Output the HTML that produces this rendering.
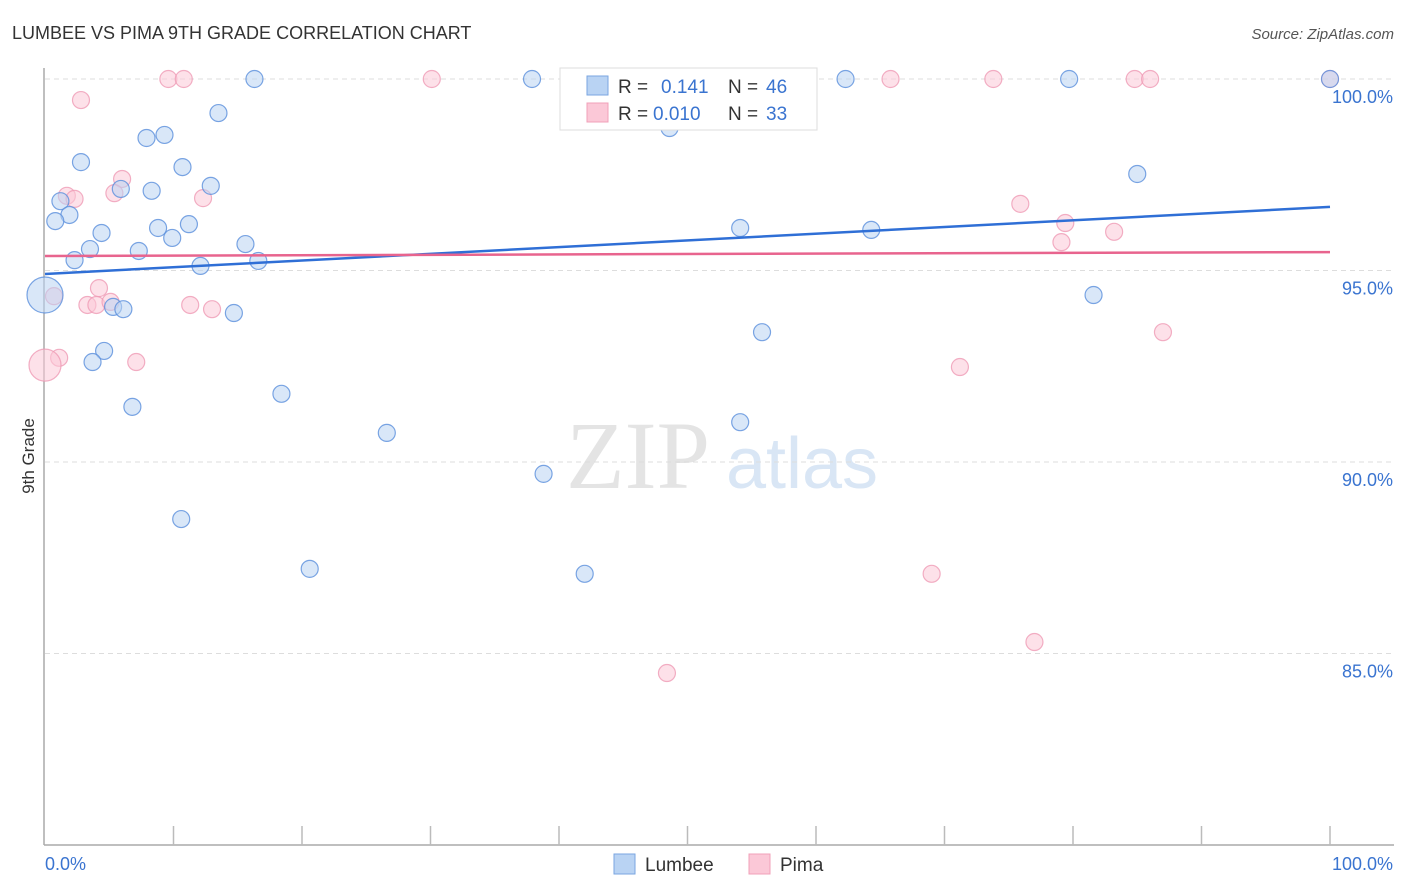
<!DOCTYPE html>
<html><head><meta charset="utf-8"><style>
body{margin:0;background:#fff;font-family:"Liberation Sans",sans-serif;}
svg{display:block}
</style></head><body>
<svg id="c" width="1406" height="892" xmlns="http://www.w3.org/2000/svg">
<text x="12" y="39" font-size="18" fill="#333">LUMBEE VS PIMA 9TH GRADE CORRELATION CHART</text>
<text x="1394" y="39" font-size="15" fill="#555" font-style="italic" text-anchor="end">Source: ZipAtlas.com</text>
<text x="638" y="488" font-size="96" fill="#e4e4e4" font-family="Liberation Serif" text-anchor="middle">ZIP</text>
<text x="802" y="488" font-size="72" fill="#d9e6f5" text-anchor="middle">atlas</text>
<g id="grid"></g><g id="axes"></g><g id="pts"></g><g id="trend"></g>
<text x="34" y="456" font-size="17" fill="#333" text-anchor="middle" transform="rotate(-90 34 456)">9th Grade</text>
<g>
<rect x="560" y="68" width="257" height="62" fill="#fff" stroke="#ddd"/>
<rect x="587" y="76" width="21" height="19" fill="#b9d3f3" stroke="#7aa6e0"/>
<rect x="587" y="103" width="21" height="19" fill="#fbc8d7" stroke="#f0a0b8"/>
<text x="618" y="93" font-size="19" fill="#333">R = </text><text x="661" y="93" font-size="19" fill="#3a74d0">0.141</text>
<text x="728" y="93" font-size="19" fill="#333">N = </text><text x="766" y="93" font-size="19" fill="#3a74d0">46</text>
<text x="618" y="120" font-size="19" fill="#333">R = </text><text x="653" y="120" font-size="19" fill="#3a74d0">0.010</text>
<text x="728" y="120" font-size="19" fill="#333">N = </text><text x="766" y="120" font-size="19" fill="#3a74d0">33</text>
</g>
<g>
<rect x="614" y="854" width="21" height="20" fill="#b9d3f3" stroke="#7aa6e0"/>
<text x="645" y="871" font-size="19" fill="#333">Lumbee</text>
<rect x="749" y="854" width="21" height="20" fill="#fbc8d7" stroke="#f0a0b8"/>
<text x="780" y="871" font-size="19" fill="#333">Pima</text>
</g>
</svg>
<script>
const lumbeeX=[16.3,37.9,62.3,79.7,100,13.5,7.9,9.3,2.8,10.7,48.6,12.9,5.9,8.3,1.2,1.9,0.8,11.2,8.8,4.4,9.9,54.1,64.3,85.0,15.6,3.5,7.3,2.3,16.6,12.1,0,5.3,6.1,14.7,81.6,55.8,4.6,3.7,6.8,18.4,26.6,54.1,38.8,10.6,20.6,42.0];
const lumbeeY=[100,100,100,100,100,99.11,98.46,98.54,97.83,97.70,98.72,97.21,97.13,97.08,96.81,96.45,96.29,96.21,96.11,95.98,95.85,96.11,96.06,97.52,95.69,95.56,95.51,95.27,95.25,95.12,94.36,94.05,93.99,93.89,94.36,93.39,92.90,92.61,91.44,91.78,90.76,91.04,89.69,88.51,87.21,87.08];
const pimaX=[9.6,10.8,30.1,65.8,73.8,84.8,86.0,100,2.8,6.0,1.7,2.3,5.4,12.3,75.9,79.4,79.1,83.2,4.2,0.7,3.3,4.0,5.1,11.3,13.0,1.1,0,7.1,71.2,87.0,69.0,77.0,48.4];
const pimaY=[100,100,100,100,100,100,100,100,99.45,97.39,96.95,96.87,97.02,96.89,96.74,96.24,95.74,96.01,94.54,94.33,94.10,94.10,94.18,94.10,93.99,92.72,92.53,92.61,92.48,93.39,87.08,85.30,84.49];
const lumbeeTrend=[94.91,96.66];
const pimaTrend=[95.38,95.48];
const yTicks=[100,95,90,85];
const xTickLabels=["0.0%","100.0%"];
const NS="http://www.w3.org/2000/svg";
const xs=v=>45+v*12.85;
const ys=v=>79+(100-v)*38.3;
function mk(tag,parent,attrs){const e=document.createElementNS(NS,tag);for(const k in attrs)e.setAttribute(k,attrs[k]);document.getElementById(parent).appendChild(e);return e;}
yTicks.forEach(t=>{
  const l=mk('line','grid',{x1:45,x2:1394,y1:ys(t),y2:ys(t),stroke:'#ddd','stroke-dasharray':'5,4'});
  
  
  const tx=mk('text','grid',{x:1393,y:ys(t)+24,'font-size':18,fill:'#3a74d0','text-anchor':'end'});
  tx.textContent=t.toFixed(1)+'%';
  
  
});
let a=mk('line','axes',{x1:44,x2:44,y1:68,y2:845,stroke:'#aaa','stroke-width':1.5});


a=mk('line','axes',{x1:44,x2:1394,y1:845,y2:845,stroke:'#aaa','stroke-width':1.5});


for(let i=1;i<=10;i++){const t=mk('line','axes',{x1:xs(i*10),x2:xs(i*10),y1:826,y2:845,stroke:'#bbb','stroke-width':1.5});
  
  }
let xl=mk('text','axes',{x:45,y:870,'font-size':18,fill:'#3a74d0'});xl.textContent=xTickLabels[0];


xl=mk('text','axes',{x:1393,y:870,'font-size':18,fill:'#3a74d0','text-anchor':'end'});xl.textContent=xTickLabels[1];


function dots(X,Y,fill,stroke,name){X.forEach((x,i)=>{const r=(x===0)?(name==='lumbee-point'?18:16):8.5;
  const c=mk('circle','pts',{cx:xs(x),cy:ys(Y[i]),r:r,fill:fill,'fill-opacity':0.55,stroke:stroke,'stroke-opacity':0.8,'stroke-width':1.2});
  
  });}
dots(pimaX,pimaY,'#fbc8d7','#ef9bb5','pima-point');
dots(lumbeeX,lumbeeY,'#b9d3f3','#5a8fdc','lumbee-point');
let tl=mk('line','trend',{x1:xs(0),x2:xs(100),y1:ys(lumbeeTrend[0]),y2:ys(lumbeeTrend[1]),stroke:'#2f6fd6','stroke-width':2.5});


tl=mk('line','trend',{x1:xs(0),x2:xs(100),y1:ys(pimaTrend[0]),y2:ys(pimaTrend[1]),stroke:'#e8648e','stroke-width':2.5});


</script>
</body></html>
